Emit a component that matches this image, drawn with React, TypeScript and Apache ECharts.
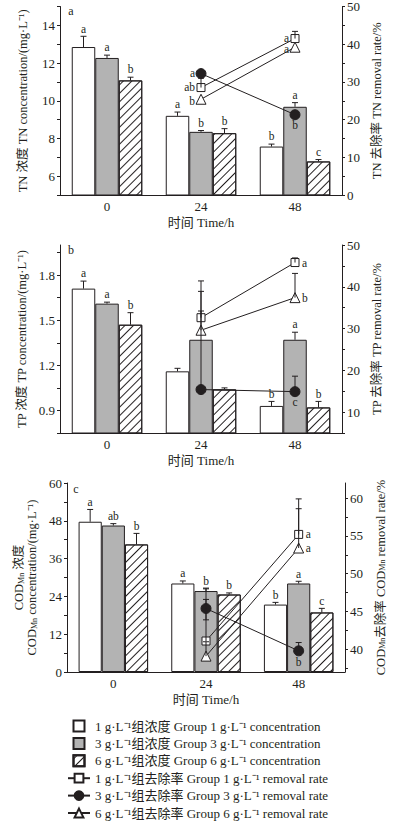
import React, { useEffect, useRef } from "react";
import * as echarts from "echarts";

const FONT = '"Liberation Serif", "Times New Roman", "Noto Sans CJK SC", serif';
const INK = "#231f20";
const GRAY = "#b3b3b3";

// categories
const categories = ["0", "24", "48"];

// legend names
const N1 = "1 g·L⁻¹组浓度 Group 1 g·L⁻¹ concentration";
const N3 = "3 g·L⁻¹组浓度 Group 3 g·L⁻¹ concentration";
const N6 = "6 g·L⁻¹组浓度 Group 6 g·L⁻¹ concentration";
const R1 = "1 g·L⁻¹组去除率 Group 1 g·L⁻¹ removal rate";
const R3 = "3 g·L⁻¹组去除率 Group 3 g·L⁻¹ removal rate";
const R6 = "6 g·L⁻¹组去除率 Group 6 g·L⁻¹ removal rate";

// ---------- TN ----------
const tn1 = [12.85, 9.2, 7.57];
const tn1Err = [13.42, 9.4, 7.7];
const tn3 = [12.27, 8.35, 9.68];
const tn3Err = [12.42, 8.42, 9.9];
const tn6 = [11.08, 8.28, 6.78];
const tn6Err = [11.25, 8.52, 6.88];
const tn1Letters = ["a", "a", "b"];
const tn3Letters = ["a", "b", "a"];
const tn6Letters = ["b", "b", "c"];

const tnRate1 = [null, 28.5, 41.5];
const tnRate1Err = [null, 31.0, 43.4];
const tnRate3 = [null, 32.2, 21.3];
const tnRate3Err = [null, null, null];
const tnRate6 = [null, 25.4, 39.2];
const tnRate6Err = [null, null, null];
const tnRate1Letters = ["", "ab", "a"];
const tnRate3Letters = ["", "a", "b"];
const tnRate6Letters = ["", "b", "a"];

// ---------- TP ----------
const tp1 = [1.71, 1.16, 0.93];
const tp1Err = [1.76, 1.18, 0.96];
const tp3 = [1.61, 1.37, 1.37];
const tp3Err = [1.62, null, 1.42];
const tp6 = [1.47, 1.04, 0.92];
const tp6Err = [1.55, 1.05, 0.96];
const tp1Letters = ["a", "", "b"];
const tp3Letters = ["a", "", "a"];
const tp6Letters = ["b", "", "b"];

const tpRate1 = [null, 32.6, 45.8];
const tpRate1Err = [null, 41.4, 46.9];
const tpRate3 = [null, 15.4, 14.9];
const tpRate3Err = [null, 34.2, 18.6];
const tpRate6 = [null, 29.6, 37.4];
const tpRate6Err = [null, 38.9, 43.2];
const tpRate1Letters = ["", "", "a"];
const tpRate3Letters = ["", "", "c"];
const tpRate6Letters = ["", "", "b"];

// ---------- COD ----------
const cod1 = [47.7, 28.1, 21.4];
const cod1Err = [51.6, 28.9, 22.1];
const cod3 = [46.5, 25.7, 28.1];
const cod3Err = [47.1, 26.4, 28.8];
const cod6 = [40.5, 24.6, 18.9];
const cod6Err = [44.0, 25.1, 20.2];
const cod1Letters = ["a", "a", "b"];
const cod3Letters = ["ab", "b", "a"];
const cod6Letters = ["b", "b", "c"];

const codRate1 = [null, 41.1, 55.2];
const codRate1Err = [null, 48.1, 59.9];
const codRate3 = [null, 45.4, 39.8];
const codRate3Err = [null, 46.6, 40.9];
const codRate3ErrLow = [null, 43.9, null];
const codRate6 = [null, 39.1, 53.4];
const codRate6Err = [null, 41.0, 58.6];
const codRate1Letters = ["", "", "a"];
const codRate3Letters = ["", "", "b"];
const codRate6Letters = ["", "", "a"];

// axis ticks / labels
const tnLeftTicks = [5, 6, 7, 8, 9, 10, 11, 12, 13, 14, 15];
const tnLeftLabels = [6, 8, 10, 12, 14];
const tnRightTicks = [0, 5, 10, 15, 20, 25, 30, 35, 40, 45, 50];
const tnRightLabels = [0, 10, 20, 30, 40, 50];
const tpLeftTicks = [0.75, 0.9, 1.05, 1.2, 1.35, 1.5, 1.65, 1.8, 1.95];
const tpLeftLabels = [0.9, 1.2, 1.5, 1.8];
const tpRightTicks = [5, 10, 15, 20, 25, 30, 35, 40, 45, 50];
const tpRightLabels = [10, 20, 30, 40, 50];
const codLeftTicks = [0, 6, 12, 18, 24, 30, 36, 42, 48, 54, 60];
const codLeftLabels = [0, 12, 24, 36, 48, 60];
const codRightTicks = [37.5, 40, 42.5, 45, 47.5, 50, 52.5, 55, 57.5, 60];
const codRightLabels = [40, 45, 50, 55, 60];

// letter placement for removal-rate markers (layout)
const SIDE_TN_R1 = ["", "left", "left"];
const SIDE_TN_R3 = ["", "left", "below"];
const SIDE_TN_R6 = ["", "leftlow", "leftlow"];
const SIDE_TP_R1 = ["", "", "right"];
const SIDE_TP_R3 = ["", "", "below"];
const SIDE_TP_R6 = ["", "", "right"];
const SIDE_COD_R1 = ["", "", "right"];
const SIDE_COD_R3 = ["", "", "below"];
const SIDE_COD_R6 = ["", "", "right"];

const textBase = { fontFamily: FONT, color: INK };

function errSeries(
  id: string,
  xIdx: number,
  yIdx: number,
  vals: (number | null)[],
  hi: (number | null)[],
  lo: (number | null)[] | null,
  letters: string[],
  off: number,
  sides: string[] | null
) {
  const data = vals.map((v, i) => [i, v, hi[i], lo ? lo[i] : null]);
  return {
    type: "custom",
    name: id,
    xAxisIndex: xIdx,
    yAxisIndex: yIdx,
    z: sides ? 5 : 3,
    clip: false,
    encode: { x: 0, y: 1 },
    data,
    renderItem: (params: any, api: any) => {
      const i = api.value(0);
      const v = api.value(1);
      if (v == null || isNaN(v)) return null;
      const h = api.value(2);
      const l = api.value(3);
      const band = api.size([1, 0])[0];
      const p = api.coord([i, v]);
      const x = p[0] + off * band * 0.25;
      const y = p[1];
      const children: any[] = [];
      const lineStyle = { stroke: INK, lineWidth: 1 };
      let top = y;
      if (h != null && !isNaN(h)) {
        const yh = api.coord([i, h])[1];
        children.push({ type: "line", shape: { x1: x, y1: y, x2: x, y2: yh }, style: lineStyle });
        children.push({ type: "line", shape: { x1: x - 3, y1: yh, x2: x + 3, y2: yh }, style: lineStyle });
        top = yh;
      }
      if (l != null && !isNaN(l)) {
        const yl = api.coord([i, l])[1];
        children.push({ type: "line", shape: { x1: x, y1: y, x2: x, y2: yl }, style: lineStyle });
        children.push({ type: "line", shape: { x1: x - 3, y1: yl, x2: x + 3, y2: yl }, style: lineStyle });
      }
      const letter = letters[i];
      if (letter) {
        const side = sides ? sides[i] : "top";
        let tx = x, ty = top - 2, align = "center", va = "bottom";
        if (side === "left") { tx = x - 6; ty = y - 1; align = "right"; va = "middle"; }
        else if (side === "leftlow") { tx = x - 6; ty = y + 2; align = "right"; va = "middle"; }
        else if (side === "right") { tx = x + 7; ty = y; align = "left"; va = "middle"; }
        else if (side === "below") { tx = x; ty = y + 5; align = "center"; va = "top"; }
        children.push({
          type: "text",
          x: tx,
          y: ty,
          style: { text: letter, fontFamily: FONT, fontSize: 11.5, fill: INK, align, verticalAlign: va },
        });
      }
      return { type: "group", children };
    },
  };
}

function barSeries(name: string, xIdx: number, yIdx: number, data: number[], kind: number) {
  const itemStyle: any = {
    color: kind === 1 ? GRAY : "#ffffff",
    borderColor: INK,
    borderWidth: 1,
  };
  if (kind === 2) {
    itemStyle.decal = {
      symbol: "rect",
      symbolSize: 1,
      dashArrayX: [[1, 0]],
      dashArrayY: [1, 5],
      rotation: -Math.PI / 4,
      color: INK,
      backgroundColor: "#ffffff",
    };
  }
  return {
    type: "bar",
    name,
    xAxisIndex: xIdx,
    yAxisIndex: yIdx,
    data,
    barGap: "0%",
    barCategoryGap: "25%",
    itemStyle,
    z: 2,
  };
}

const markerDefs = [
  { symbol: "rect", size: 8, fill: "#ffffff" },
  { symbol: "circle", size: 10, fill: INK },
  { symbol: "triangle", size: 10, fill: "#ffffff" },
];

function lineSeries(name: string, xIdx: number, yIdx: number, data: (number | null)[], k: number) {
  const m = markerDefs[k];
  return {
    type: "line",
    name,
    xAxisIndex: xIdx,
    yAxisIndex: yIdx,
    data: data.map((v) => (v == null ? "-" : v)),
    symbol: m.symbol,
    symbolSize: m.size,
    showAllSymbol: true,
    lineStyle: { color: INK, width: 1 },
    itemStyle: { color: m.fill, borderColor: INK, borderWidth: 1 },
    z: 4,
  };
}

function xAxis(grid: number) {
  return {
    type: "category",
    gridIndex: grid,
    data: categories,
    axisLine: { lineStyle: { color: INK, width: 1 } },
    axisTick: { show: false },
    axisLabel: { ...textBase, fontSize: 13, margin: 5 },
    name: "时间 Time/h",
    nameLocation: "middle",
    nameGap: 21,
    nameTextStyle: { ...textBase, fontSize: 13 },
  };
}

function yAxis(
  grid: number,
  position: string,
  min: number,
  max: number,
  ticks: number[],
  labels: number[],
  name: string,
  nameGap: number,
  rich?: any
) {
  return {
    type: "value",
    gridIndex: grid,
    position,
    min,
    max,
    splitLine: { show: false },
    axisLine: { show: true, lineStyle: { color: INK, width: 1 } },
    axisTick: { show: true, length: 3, lineStyle: { color: INK }, customValues: ticks },
    axisLabel: { ...textBase, fontSize: 13, margin: 5, customValues: labels },
    name,
    nameLocation: "middle",
    nameGap,
    nameRotate: 90,
    nameTextStyle: { ...textBase, fontSize: 12.5, rich },
  };
}

const richSub = {
  a: { fontFamily: FONT, fontSize: 12.5, color: INK },
  s: { fontFamily: FONT, fontSize: 8, color: INK, verticalAlign: "bottom", padding: [5, 0, 0, 0] },
};

const BOX = "path://M0,0H10V10H0Z";

export default function App() {
  const ref = useRef<HTMLDivElement>(null);
  useEffect(() => {
    if (!ref.current) return;
    const chart = echarts.init(ref.current, undefined, { renderer: "svg" });
    const option: any = {
      animation: false,
      backgroundColor: "#ffffff",
      grid: [
        { left: 60, right: 53, top: 5, height: 190 },
        { left: 60, right: 53, top: 245, height: 188 },
        { left: 67, right: 50, top: 483, height: 189 },
      ],
      xAxis: [xAxis(0), xAxis(1), xAxis(2)],
      yAxis: [
        yAxis(0, "left", 5, 15, tnLeftTicks, tnLeftLabels, "TN 浓度 TN concentration/(mg·L⁻¹)", 31),
        yAxis(0, "right", 0, 50, tnRightTicks, tnRightLabels, "TN 去除率 TN removal rate/%", 26),
        yAxis(1, "left", 0.75, 2.0, tpLeftTicks, tpLeftLabels, "TP 浓度 TP concentration/(mg·L⁻¹)", 31),
        yAxis(1, "right", 5, 50, tpRightTicks, tpRightLabels, "TP 去除率 TP removal rate/%", 26),
        yAxis(
          2,
          "left",
          0,
          60,
          codLeftTicks,
          codLeftLabels,
          "{a|COD}{s|Mn}{a| 浓度}\n{a|COD}{s|Mn}{a| concentration/(mg·L⁻¹)}",
          29,
          richSub
        ),
        yAxis(
          2,
          "right",
          37,
          62,
          codRightTicks,
          codRightLabels,
          "{a|COD}{s|Mn}{a|去除率 COD}{s|Mn}{a| removal rate/%}",
          29,
          richSub
        ),
      ],
      legend: {
        orient: "vertical",
        left: 67,
        top: 719,
        padding: 0,
        height: 104,
        itemWidth: 22,
        itemHeight: 11,
        itemGap: 3.4,
        textStyle: { ...textBase, fontSize: 13, lineHeight: 14 },
        data: [
          { name: N1, icon: BOX },
          { name: N3, icon: BOX },
          { name: N6, icon: BOX },
          { name: R1 },
          { name: R3 },
          { name: R6 },
        ],
      },
      graphic: [
        { type: "text", x: 71, y: 11, style: { text: "a", fontFamily: FONT, fontSize: 12, fill: INK, align: "center", verticalAlign: "middle" } },
        { type: "text", x: 71, y: 250, style: { text: "b", fontFamily: FONT, fontSize: 12, fill: INK, align: "center", verticalAlign: "middle" } },
        { type: "text", x: 76, y: 489, style: { text: "c", fontFamily: FONT, fontSize: 12, fill: INK, align: "center", verticalAlign: "middle" } },
      ],
      series: [
        // TN
        barSeries(N1, 0, 0, tn1, 0),
        barSeries(N3, 0, 0, tn3, 1),
        barSeries(N6, 0, 0, tn6, 2),
        errSeries("e-tn1", 0, 0, tn1, tn1Err, null, tn1Letters, -1, null),
        errSeries("e-tn3", 0, 0, tn3, tn3Err, null, tn3Letters, 0, null),
        errSeries("e-tn6", 0, 0, tn6, tn6Err, null, tn6Letters, 1, null),
        lineSeries(R1, 0, 1, tnRate1, 0),
        lineSeries(R3, 0, 1, tnRate3, 1),
        lineSeries(R6, 0, 1, tnRate6, 2),
        errSeries("e-tnr1", 0, 1, tnRate1, tnRate1Err, null, tnRate1Letters, 0, SIDE_TN_R1),
        errSeries("e-tnr3", 0, 1, tnRate3, tnRate3Err, null, tnRate3Letters, 0, SIDE_TN_R3),
        errSeries("e-tnr6", 0, 1, tnRate6, tnRate6Err, null, tnRate6Letters, 0, SIDE_TN_R6),
        // TP
        barSeries(N1, 1, 2, tp1, 0),
        barSeries(N3, 1, 2, tp3, 1),
        barSeries(N6, 1, 2, tp6, 2),
        errSeries("e-tp1", 1, 2, tp1, tp1Err, null, tp1Letters, -1, null),
        errSeries("e-tp3", 1, 2, tp3, tp3Err, null, tp3Letters, 0, null),
        errSeries("e-tp6", 1, 2, tp6, tp6Err, null, tp6Letters, 1, null),
        lineSeries(R1, 1, 3, tpRate1, 0),
        lineSeries(R3, 1, 3, tpRate3, 1),
        lineSeries(R6, 1, 3, tpRate6, 2),
        errSeries("e-tpr1", 1, 3, tpRate1, tpRate1Err, null, tpRate1Letters, 0, SIDE_TP_R1),
        errSeries("e-tpr3", 1, 3, tpRate3, tpRate3Err, null, tpRate3Letters, 0, SIDE_TP_R3),
        errSeries("e-tpr6", 1, 3, tpRate6, tpRate6Err, null, tpRate6Letters, 0, SIDE_TP_R6),
        // COD
        barSeries(N1, 2, 4, cod1, 0),
        barSeries(N3, 2, 4, cod3, 1),
        barSeries(N6, 2, 4, cod6, 2),
        errSeries("e-cod1", 2, 4, cod1, cod1Err, null, cod1Letters, -1, null),
        errSeries("e-cod3", 2, 4, cod3, cod3Err, null, cod3Letters, 0, null),
        errSeries("e-cod6", 2, 4, cod6, cod6Err, null, cod6Letters, 1, null),
        lineSeries(R1, 2, 5, codRate1, 0),
        lineSeries(R3, 2, 5, codRate3, 1),
        lineSeries(R6, 2, 5, codRate6, 2),
        errSeries("e-codr1", 2, 5, codRate1, codRate1Err, null, codRate1Letters, 0, SIDE_COD_R1),
        errSeries("e-codr3", 2, 5, codRate3, codRate3Err, codRate3ErrLow, codRate3Letters, 0, SIDE_COD_R3),
        errSeries("e-codr6", 2, 5, codRate6, codRate6Err, null, codRate6Letters, 0, SIDE_COD_R6),
      ],
    };
    chart.setOption(option);
    return () => chart.dispose();
  }, []);
  return (
    <div
      ref={ref}
      style={{ position: "absolute", left: 0, top: 0, width: 395, height: 823, background: "#fff" }}
    />
  );
}
